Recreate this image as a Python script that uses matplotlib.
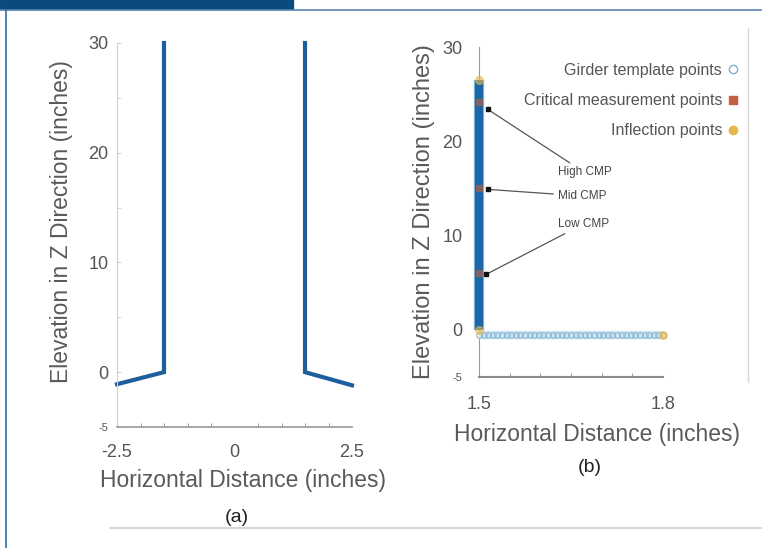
import matplotlib
matplotlib.use("Agg")
import matplotlib.pyplot as plt
from matplotlib.lines import Line2D

plt.rcParams['font.family'] = ['Liberation Sans', 'DejaVu Sans']
plt.rcParams['axes.unicode_minus'] = False

# panel (a): girder cross-section outline
left_x = [-2.5, -1.5, -1.5]
left_z = [-1.1, 0.0, 30.0]
right_x = [1.5, 1.5, 2.5]
right_z = [30.0, 0.0, -1.2]
a_xticks = [-2.5, 0, 2.5]
a_xticklabels = ['-2.5', '0', '2.5']

# panel (b): template / measurement points
col_x = 1.5
col_z = [0, 1, 2, 3, 4, 5, 6, 7, 8, 9, 10, 11, 12, 13, 14, 15, 16, 17, 18,
         19, 20, 21, 22, 23, 24, 25, 26, 26.5]
base_x = [1.5000, 1.5075, 1.5150, 1.5225, 1.5300, 1.5375, 1.5450, 1.5525,
          1.5600, 1.5675, 1.5750, 1.5825, 1.5900, 1.5975, 1.6050, 1.6125,
          1.6200, 1.6275, 1.6350, 1.6425, 1.6500, 1.6575, 1.6650, 1.6725,
          1.6800, 1.6875, 1.6950, 1.7025, 1.7100, 1.7175, 1.7250, 1.7325,
          1.7400, 1.7475, 1.7550, 1.7625, 1.7700, 1.7775, 1.7850, 1.7925,
          1.8000]
base_z = -0.5
critical_z = [24.2, 15.0, 6.0]
inflect_x = [1.5, 1.5, 1.8]
inflect_z = [26.5, 0.0, -0.5]
cmp_names = ['High CMP', 'Mid CMP', 'Low CMP']
cmp_x = [1.514, 1.514, 1.512]
cmp_z = [23.4, 14.9, 5.9]
legend_labels = ['Girder template points', 'Critical measurement points',
                 'Inflection points']

W, H = 762, 548
fig = plt.figure(figsize=(7.62, 5.48), dpi=100)
fig.patch.set_facecolor('white')


def px(x0, y0, w, h):
    return [x0 / W, 1 - (y0 + h) / H, w / W, h / H]


# page decorations
fig.patches.append(plt.Rectangle((0, 1 - 9 / H), 293 / W, 9 / H, transform=fig.transFigure,
                                 color='#0b4a7d', zorder=0))
fig.add_artist(Line2D([0, 1], [1 - 9.5 / H] * 2, color='#5a86b2', lw=1.2))
fig.add_artist(Line2D([6 / W] * 2, [0, 1 - 9.5 / H], color='#2f6ea8', lw=1.2))
fig.add_artist(Line2D([110 / W, 1], [1 - 528 / H] * 2, color='#cfcfcf', lw=1.2))
fig.add_artist(Line2D([748 / W] * 2, [1 - 382 / H, 1 - 28 / H], color='#d8d8d8', lw=1.0))

tick_col = '#555555'
lab_col = '#5a5a5a'

# ---- panel (a)
ax1 = fig.add_axes(px(117, 43, 235, 384))
ax1.plot(left_x, left_z, color='#1d5f9c', lw=3, solid_joinstyle='miter', clip_on=False)
ax1.plot(right_x, right_z, color='#1d5f9c', lw=3, solid_joinstyle='miter', clip_on=False)
ax1.set_xlim(-2.5, 2.5)
ax1.set_ylim(-5, 30)
ax1.set_xticks(a_xticks)
ax1.set_xticklabels(a_xticklabels)
ax1.set_xticks([-2, -1.5, -1, -0.5, 0.5, 1, 1.5, 2], minor=True)
ax1.set_yticks([-5, 0, 10, 20, 30])
ax1.set_yticks([5, 15, 25], minor=True)
for s in ['top', 'right']:
    ax1.spines[s].set_visible(False)
ax1.spines['left'].set_color('#d0d0d0')
ax1.spines['bottom'].set_color('#a0a0a0')
ax1.spines['bottom'].set_linewidth(1.3)
ax1.tick_params(axis='x', which='major', length=0, pad=12, labelsize=13, labelcolor=tick_col)
ax1.tick_params(axis='x', which='minor', direction='in', length=3, color='#888888')
ax1.tick_params(axis='y', which='major', length=3, direction='in', color='#d0d0d0', pad=6,
                labelsize=13, labelcolor=tick_col)
ax1.tick_params(axis='y', which='minor', length=3, direction='in', color='#d0d0d0')
for t in ax1.get_yticklabels():
    if t.get_text() == '-5':
        t.set_fontsize(8)

fig.text(62 / W, 1 - 222 / H, 'Elevation in Z Direction (inches)', rotation=90,
         ha='center', va='center', fontsize=16.5, color=lab_col)
fig.text(243 / W, 1 - 480 / H, 'Horizontal Distance (inches)', ha='center', va='center',
         fontsize=16.5, color=lab_col)
fig.text(237 / W, 1 - 517 / H, '(a)', ha='center', va='center', fontsize=14,
         family=['Liberation Sans Narrow', 'Liberation Sans'], color='#222222')

# ---- panel (b)
ax2 = fig.add_axes(px(479, 47, 184, 330))
ax2.plot([col_x] * len(col_z), col_z, color='#8cc4e8', lw=7.5, clip_on=False, zorder=3,
         solid_capstyle='butt')
ax2.plot([col_x] * len(col_z), col_z, color='#1a66a6', lw=6, clip_on=False, zorder=3,
         solid_capstyle='butt')
ax2.plot(base_x, [base_z] * len(base_x), color='#cfe6f2', lw=6, clip_on=False, zorder=3,
         solid_capstyle='butt')
ax2.plot(base_x, [base_z] * len(base_x), ls='none', marker='o', ms=4, mfc='none',
         mec='#8ab8d3', mew=0.8, clip_on=False, zorder=3)
ax2.plot([col_x] * len(critical_z), critical_z, ls='none', marker='s', ms=5,
         color='#c4603f', alpha=0.55, clip_on=False, zorder=4)
ax2.plot(inflect_x, inflect_z, ls='none', marker='o', ms=5.5, color='#e6b84c',
         alpha=0.6, clip_on=False, zorder=4)
ax2.plot(cmp_x, cmp_z, ls='none', marker='s', ms=3.5, color='#111111', clip_on=False, zorder=5)
text_z = [16.7, 14.2, 11.2]
for name, x, z, tz in zip(cmp_names, cmp_x, cmp_z, text_z):
    ax2.annotate(name, xy=(x, z), xytext=(1.628, tz), fontsize=8.5, color='#444444',
                 va='center', ha='left',
                 arrowprops=dict(arrowstyle='-', color='#555555', lw=0.9,
                                 shrinkA=1, shrinkB=0))
ax2.set_xlim(1.5, 1.8)
ax2.set_ylim(-5, 30)
ax2.set_xticks([1.5, 1.8])
ax2.set_xticklabels(['1.5', '1.8'])
ax2.set_xticks([1.55, 1.6, 1.65, 1.7, 1.75], minor=True)
ax2.set_yticks([-5, 0, 10, 20, 30])
for s in ['top', 'right']:
    ax2.spines[s].set_visible(False)
ax2.spines['left'].set_color('#9a9a9a')
ax2.spines['bottom'].set_color('#8a8a8a')
ax2.spines['bottom'].set_linewidth(1.5)
ax2.tick_params(axis='x', which='major', length=0, pad=14, labelsize=13, labelcolor=tick_col)
ax2.tick_params(axis='x', which='minor', direction='in', length=3, color='#888888')
ax2.tick_params(axis='y', which='major', length=0, pad=12, labelsize=13, labelcolor=tick_col)
for t in ax2.get_yticklabels():
    if t.get_text() == '-5':
        t.set_fontsize(8)

handles = [
    Line2D([], [], ls='none', marker='o', ms=6, mfc='white', mec='#7fb0cf', mew=1.0),
    Line2D([], [], ls='none', marker='s', ms=6, color='#c4603f'),
    Line2D([], [], ls='none', marker='o', ms=6, color='#e6b84c'),
]
leg = fig.legend(handles, legend_labels, loc='upper right', bbox_to_anchor=(746 / W, 1 - 55 / H),
                 frameon=False, markerfirst=False, fontsize=11.5, handlelength=0.6,
                 handletextpad=0.4, labelspacing=0.95, borderpad=0)
for t in leg.get_texts():
    t.set_color('#555555')

fig.text(424 / W, 1 - 212 / H, 'Elevation in Z Direction (inches)', rotation=90,
         ha='center', va='center', fontsize=17, color=lab_col)
fig.text(597 / W, 1 - 435 / H, 'Horizontal Distance (inches)', ha='center', va='center',
         fontsize=16.5, color=lab_col)
fig.text(590 / W, 1 - 467 / H, '(b)', ha='center', va='center', fontsize=14,
         family=['Liberation Sans Narrow', 'Liberation Sans'], color='#222222')

fig.savefig('out.png', dpi=100)
